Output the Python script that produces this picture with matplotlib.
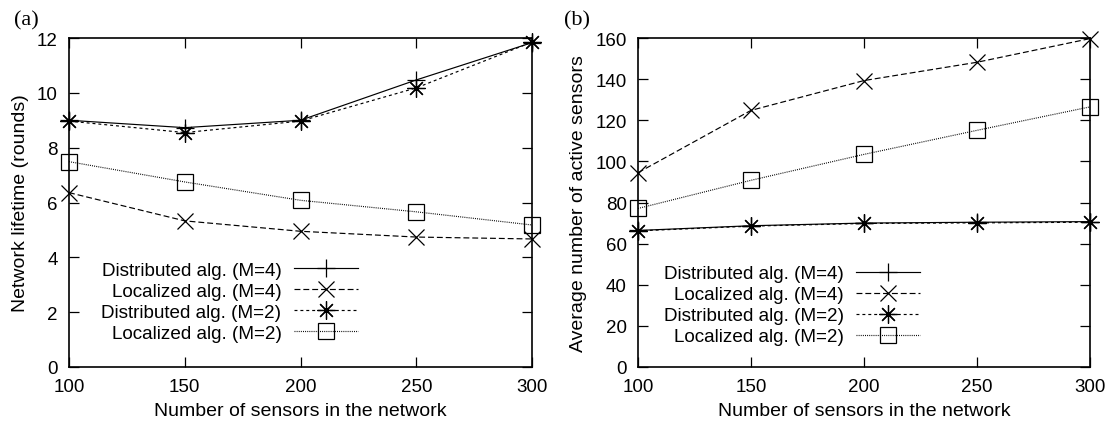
import matplotlib
matplotlib.use("Agg")
import matplotlib.pyplot as plt

plt.rcParams['font.family'] = ['Liberation Sans', 'DejaVu Sans']

sensors = [100, 150, 200, 250, 300]
labels = ["Distributed alg. (M=4)", "Localized alg. (M=4)",
          "Distributed alg. (M=2)", "Localized alg. (M=2)"]

# (a) network lifetime (rounds)
life_dist4 = [9.0, 8.73, 9.0, 10.47, 11.83]
life_loc4 = [6.36, 5.33, 4.95, 4.74, 4.67]
life_dist2 = [8.97, 8.55, 8.97, 10.18, 11.85]
life_loc2 = [7.49, 6.75, 6.08, 5.66, 5.18]

# (b) average number of active sensors
act_dist4 = [66.4, 68.7, 70.0, 70.4, 70.7]
act_loc4 = [94.5, 124.8, 139.3, 148.2, 159.7]
act_dist2 = [66.2, 68.5, 69.8, 70.1, 70.4]
act_loc2 = [77.1, 90.8, 103.4, 115.1, 126.5]

styles = [
    dict(ls='-', marker='+', ms=13, mew=0.9),
    dict(ls=(0, (5, 2.5)), marker='x', ms=12, mew=0.9),
    dict(ls=(0, (2.5, 2.5)), marker=(8, 2, 0), ms=13, mew=0.9),
    dict(ls=(0, (0.8, 1.0)), marker='s', ms=11.5, mew=0.9, mfc='none'),
]

FS = 14
fig = plt.figure(figsize=(11.13, 4.27), dpi=100)
ax1 = fig.add_axes([69/1113, 59/427, 463/1113, 329/427])
ax2 = fig.add_axes([638/1113, 59/427, 452/1113, 329/427])


def draw(ax, series, ymax, ystep, ylabel, leg_y):
    for ys, lab, st in zip(series, labels, styles):
        ax.plot(sensors, ys, color='black', lw=0.85, label=lab, clip_on=False, **st)
    ax.set_xlim(100, 300)
    ax.set_ylim(0, ymax)
    ax.set_xticks(sensors)
    ax.set_yticks(range(0, ymax + 1, ystep))
    ax.tick_params(direction='in', top=True, right=True, length=7, width=0.9,
                   labelsize=FS - 0.5, pad=8)
    ax.set_xlabel("Number of sensors in the network", fontsize=FS, labelpad=5)
    ax.set_ylabel(ylabel, fontsize=FS, labelpad=6)
    for sp in ax.spines.values():
        sp.set_linewidth(1.2)
    ax.legend(loc='center right', bbox_to_anchor=(0.624, leg_y), frameon=False,
              markerfirst=False, fontsize=FS - 0.4, handlelength=3.4,
              labelspacing=0.2, borderpad=0, borderaxespad=0, handletextpad=0.65)


draw(ax1, [life_dist4, life_loc4, life_dist2, life_loc2], 12, 2,
     "Network lifetime (rounds)", 0.199)
draw(ax2, [act_dist4, act_loc4, act_dist2, act_loc2], 160, 20,
     "Average number of active sensors", 0.188)

fig.text(26/1113, 1 - 21/427, "(a)", family='Liberation Serif', fontsize=16,
         ha='center', va='center')
fig.text(577/1113, 1 - 21/427, "(b)", family='Liberation Serif', fontsize=16,
         ha='center', va='center')

fig.savefig("out.png", dpi=100)
